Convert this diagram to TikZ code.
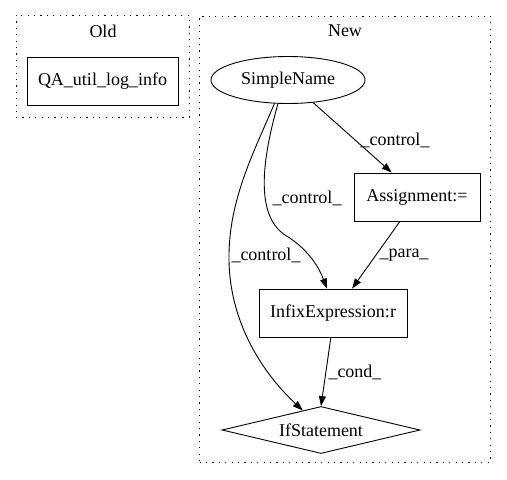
\documentclass[tikz,border=0pt]{standalone}
\usepackage{fontspec}
\setmainfont{Liberation Serif}
\usetikzlibrary{shapes.geometric,arrows.meta}
\begin{document}
\begin{tikzpicture}[x=1pt,y=-1pt,
  every node/.style={font=\fontsize{18}{20}\selectfont, inner sep=0pt},
  cluster/.style={draw, line width=0.9pt, dash pattern=on 1.2pt off 5.2pt},
  boxnode/.style={draw, line width=0.9pt, rectangle},
  ellnode/.style={draw, line width=0.9pt, ellipse},
  dianode/.style={draw, line width=0.9pt, diamond, aspect=4.2},
  edge/.style={draw, line width=0.9pt, -{Triangle[length=10pt,width=7pt]}},
  lbl/.style={}]
\useasboundingbox (0,0) rectangle (507,480);
% clusters
\node[cluster, minimum width=173pt, minimum height=102pt] (oldc) at (102.5,66) {};
\node[cluster, minimum width=291pt, minimum height=446pt] (newc) at (345,239) {};
\node (oldt) at (103,31) {Old};
\node (newt) at (345,31) {New};
% nodes
\node[boxnode, minimum width=151pt, minimum height=48pt] (qa) at (102.5,81) {QA\_util\_log\_info};
\node[ellnode, minimum width=154pt, minimum height=47pt] (sn) at (288,80) {SimpleName};
\node[boxnode, minimum width=126pt, minimum height=48pt] (asg) at (417,197) {Assignment:=};
\node[boxnode, minimum width=148pt, minimum height=48pt] (inf) at (333,313) {InfixExpression:r};
\node[dianode, minimum width=198pt, minimum height=47pt] (ifs) at (321,430) {IfStatement};
% edges
\draw[edge] (sn.-42) -- (asg.136);
\draw[edge] (sn.-113) .. controls (262,160) and (255,215) .. (285,235)
   .. controls (310,250) and (320,270) .. (inf.104);
\draw[edge] (sn.-120) .. controls (255,150) and (228,200) .. (229,260)
   .. controls (230,330) and (270,380) .. (ifs.133);
\draw[edge] (asg.-125) -- (inf.52);
\draw[edge] (inf.-95) -- (ifs.north);
% labels
\node[lbl] (l1) at (395,140) {\_control\_};
\node[lbl] (l2) at (307,198) {\_control\_};
\node[lbl] (l3) at (266,255) {\_control\_};
\node[lbl] (l4) at (404,255) {\_para\_};
\node[lbl] (l5) at (355,372) {\_cond\_};
\end{tikzpicture}
\end{document}
